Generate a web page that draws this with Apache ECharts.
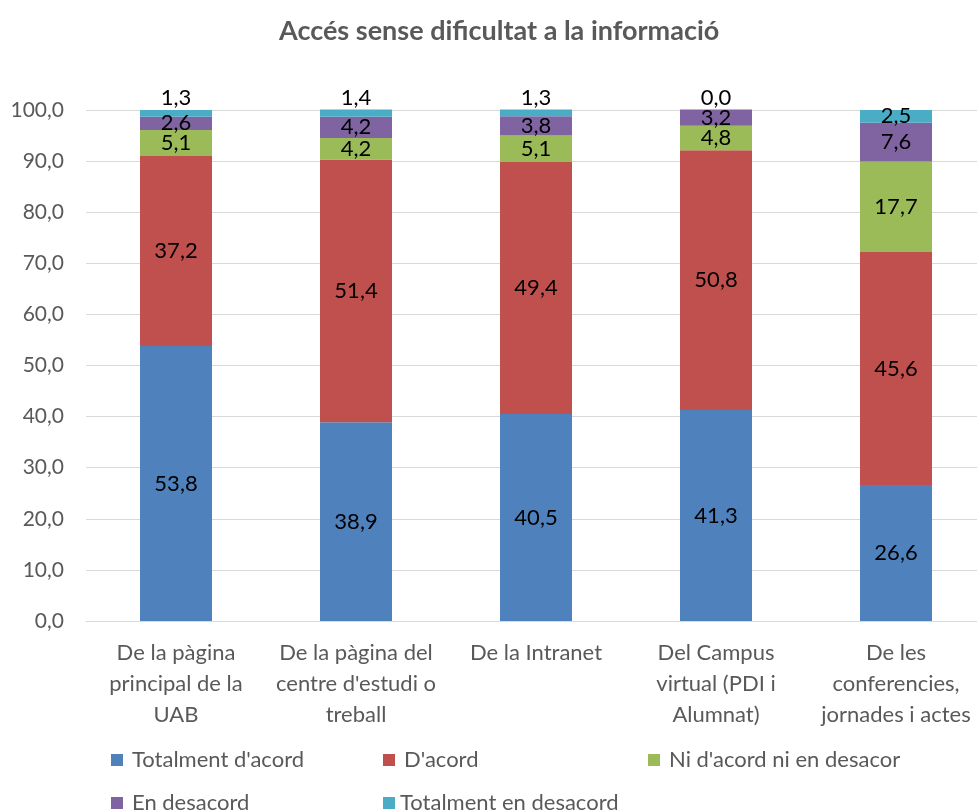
<!DOCTYPE html>
<html>
<head>
<meta charset="utf-8">
<script src="https://cdn.jsdelivr.net/npm/echarts@6/dist/echarts.min.js"></script>
<style>
  html, body { margin: 0; padding: 0; background: #fff; overflow: hidden; }
  /* plot area runs a little past the right edge, like the original */
  #chart { width: 986px; height: 812px; }
</style>
</head>
<body>
<div id="chart"></div>
<script>
// Accés sense dificultat a la informació (%)
const categories = [
  'De la pàgina\nprincipal de la\nUAB',
  'De la pàgina del\ncentre d\'estudi o\ntreball',
  'De la Intranet',
  'Del Campus\nvirtual (PDI i\nAlumnat)',
  'De les\nconferencies,\njornades i actes'
]
const seriesNames = ['Totalment d\'acord', 'D\'acord', 'Ni d\'acord ni en desacor', 'En desacord', 'Totalment en desacord']
const totalmentAcord = [53.8, 38.9, 40.5, 41.3, 26.6]
const acord = [37.2, 51.4, 49.4, 50.8, 45.6]
const niAcord = [5.1, 4.2, 5.1, 4.8, 17.7]
const desacord = [2.6, 4.2, 3.8, 3.2, 7.6]
const totalmentDesacord = [1.3, 1.4, 1.3, 0.0, 2.5]

const colors = ['#4F81BD', '#C0504D', '#9BBB59', '#8064A2', '#4BACC6']
const font = 'Lato, "Open Sans", sans-serif'
const fmt = v => Number(v).toFixed(1).replace('.', ',')

const values = [totalmentAcord, acord, niAcord, desacord, totalmentDesacord]

const series = values.map((vals, si) => ({
  name: seriesNames[si],
  type: 'bar',
  stack: 'total',
  barWidth: 72,
  clip: false,
  itemStyle: { color: colors[si] },
  label: {
    show: true,
    position: 'inside',
    color: '#000',
    fontFamily: font,
    fontSize: 22,
    formatter: p => fmt(p.value)
  },
  // small top segments: Excel pushes the label above the bar
  data: vals.map(v => (si === 4 && v < 2) ? { value: v, label: { position: 'top', distance: 1 } } : v)
}))

// legend laid out like the Excel one (two rows)
const legendSpots = [
  { left: 106, top: 744 }, { left: 378, top: 744 }, { left: 643, top: 744 },
  { left: 106, top: 787 }, { left: 378, top: 787 }
]
const legend = seriesNames.map((n, i) => ({
  data: [n],
  left: legendSpots[i].left,
  top: legendSpots[i].top,
  icon: 'rect',
  itemWidth: 12,
  itemHeight: 12,
  itemGap: 0,
  textStyle: { color: '#595959', fontFamily: font, fontSize: 22, padding: i === 4 ? 0 : [0, 0, 0, 4] },
  selectedMode: false
}))

const option = {
  animation: false,
  title: {
    text: 'Accés sense dificultat a la informació',
    left: 274,
    top: 13,
    textStyle: { color: '#595959', fontFamily: font, fontSize: 27, fontWeight: 'bold' }
  },
  legend,
  grid: { left: 86, top: 110, right: 0, bottom: 191 },
  xAxis: {
    type: 'category',
    data: categories,
    axisLine: { lineStyle: { color: '#D9D9D9' } },
    axisTick: { show: false },
    axisLabel: {
      interval: 0,
      color: '#595959',
      fontFamily: font,
      fontSize: 22,
      lineHeight: 31,
      margin: 16
    }
  },
  yAxis: {
    type: 'value',
    min: 0,
    max: 100,
    interval: 10,
    axisLine: { show: false },
    axisTick: { show: false },
    splitLine: { lineStyle: { color: '#D9D9D9' } },
    axisLabel: {
      color: '#595959',
      fontFamily: font,
      fontSize: 21,
      margin: 22,
      formatter: fmt
    }
  },
  series
}

const mychart = echarts.init(document.getElementById('chart'))
mychart.setOption(option)
</script>
</body>
</html>
